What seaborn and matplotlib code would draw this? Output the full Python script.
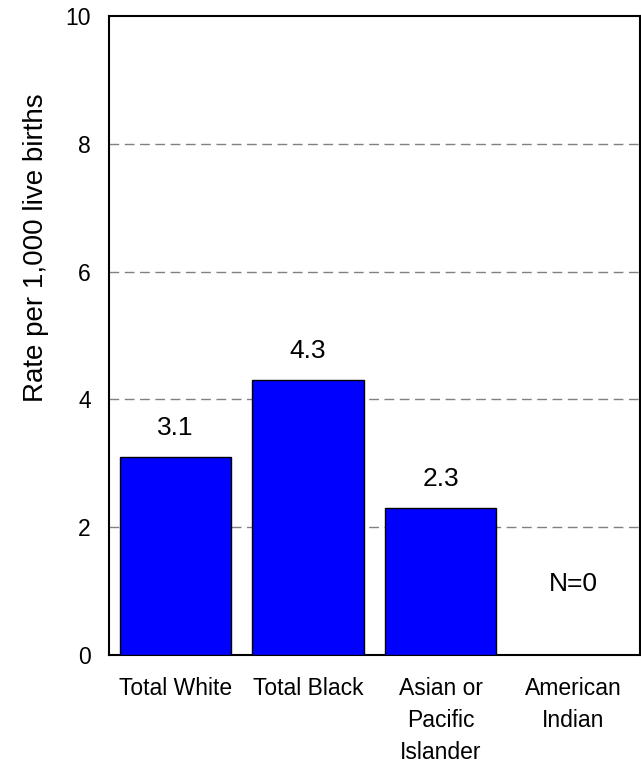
import pandas as pd
import seaborn as sns
import matplotlib.pyplot as plt

# data
groups = ['Total White', 'Total Black', 'Asian or\nPacific\nIslander', 'American\nIndian']
rates = [3.1, 4.3, 2.3, 0.0]
bar_labels = ['3.1', '4.3', '2.3', 'N=0']
y_ticks = [0, 2, 4, 6, 8, 10]

df = pd.DataFrame({'group': groups, 'rate': rates})

sns.set_style('white')
plt.rcParams['font.family'] = ['Liberation Sans', 'DejaVu Sans']
plt.rcParams['text.color'] = 'black'
plt.rcParams['axes.labelcolor'] = 'black'
plt.rcParams['xtick.color'] = 'black'
plt.rcParams['ytick.color'] = 'black'

fig = plt.figure(figsize=(6.41, 7.65), dpi=100)
ax = fig.add_axes([0.170, 0.144, 0.828, 0.835])

sns.barplot(data=df, x='group', y='rate', color='#0000FF', saturation=1,
            width=0.84, edgecolor='black', linewidth=1.0, ax=ax, zorder=3)

# value labels above the bars (N=0 sits in the empty slot)
for i, (v, lab) in enumerate(zip(rates, bar_labels)):
    if v == 0:
        ax.text(i, 1.0, lab, ha='center', va='baseline', fontsize=19)
    else:
        ax.annotate(lab, (i, v), xytext=(0, 16), textcoords='offset points',
                    ha='center', va='baseline', fontsize=19)

ax.set_ylim(0, 10)
ax.set_xlim(-0.5, 3.5)
ax.set_yticks(y_ticks)
ax.set_yticklabels([str(t) for t in y_ticks], fontsize=16.5)
ax.tick_params(axis='y', length=0, pad=13)
ax.tick_params(axis='x', length=0, pad=16, labelsize=16.5)
for t in ax.get_xticklabels():
    t.set_linespacing(1.5)
    t.set_verticalalignment('top')

for y in y_ticks[1:-1]:
    ax.axhline(y, color='#808080', linestyle=(0, (7, 4)), linewidth=1.0, zorder=1)

for s in ax.spines.values():
    s.set_visible(True)
    s.set_color('black')
    s.set_linewidth(1.5)

ax.set_xlabel('')
ax.set_ylabel('Rate per 1,000 live births', fontsize=20)
ax.yaxis.set_label_coords(-0.113, 0.637)

fig.savefig('out.png', dpi=100)
